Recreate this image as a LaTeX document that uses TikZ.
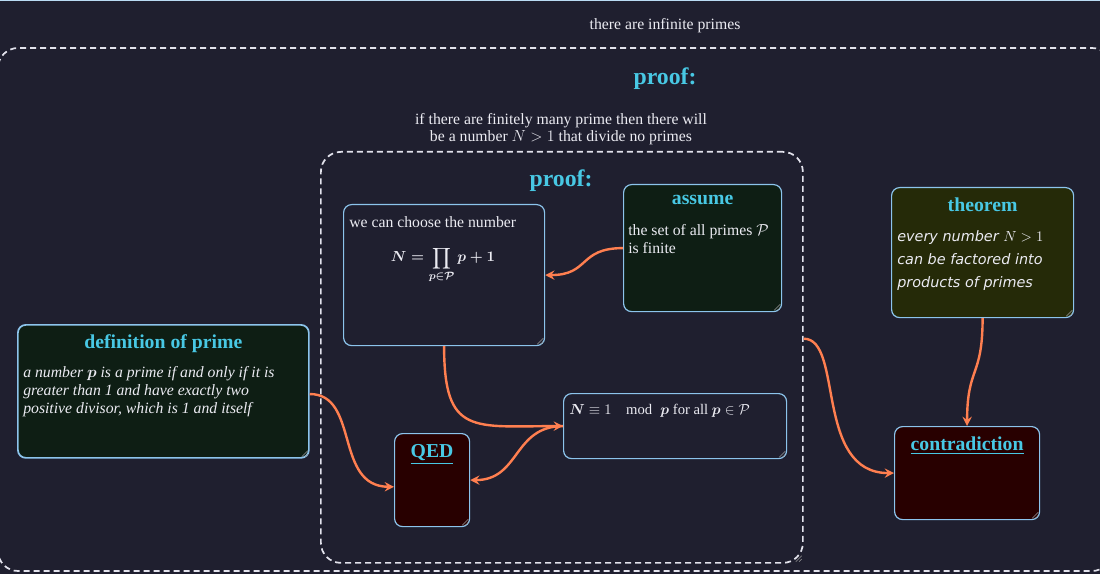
\documentclass[tikz,border=0pt]{standalone}
\usepackage{amsmath,amssymb}
\usepackage{fontspec}
\setmainfont{Liberation Serif}
\newfontfamily\handfont{DejaVu Sans}
\usetikzlibrary{positioning,arrows.meta}
\definecolor{bgcol}{RGB}{31,31,47}
\definecolor{edgecol}{RGB}{140,196,236}
\definecolor{greenfill}{RGB}{14,30,20}
\definecolor{olivefill}{RGB}{37,42,8}
\definecolor{redfill}{RGB}{40,0,0}
\definecolor{titlecol}{RGB}{72,200,228}
\definecolor{linkcol}{RGB}{255,127,80}
\definecolor{txtcol}{RGB}{235,235,242}
\definecolor{dashcol}{RGB}{226,226,236}
\tikzset{
  wh/.style 2 args={minimum width=#1*0.75pt,minimum height=#2*0.75pt},
  box/.style={draw=edgecol,line width=0.9pt,rounded corners=6pt,anchor=north west,inner sep=0pt},
  frame/.style={draw=dashcol,line width=1.3pt,dash pattern=on 4.5pt off 3pt,rounded corners=15pt},
  title/.style={text=titlecol,font=\bfseries\fontsize{14.8}{16}\selectfont,inner sep=0pt,anchor=north},
  body/.style={text=txtcol,font=\fontsize{11.8}{13.5}\selectfont,align=left,inner sep=0pt,anchor=north west},
  link/.style={->,draw=linkcol,line width=1.8pt},
  grip/.style={draw=gray!80,line width=0.4pt},
}
\begin{document}
\begin{tikzpicture}[x=0.75pt,y=-0.75pt,>={Stealth[length=7pt,width=7pt,inset=2.5pt]}]
\fill[bgcol] (0,0) rectangle (1100,574);
\useasboundingbox (0,0) rectangle (1100,574);
\draw[edgecol!60!white,line width=1pt] (0,0.6) -- (1100,0.6);
\node[body,anchor=center,font=\fontsize{11.8}{13}\selectfont] (goal) at (665,26) {there are infinite primes};
% outer proof
\draw[frame] (-2,48) rectangle (1112,571);
\node[title,anchor=center,font=\bfseries\fontsize{17.8}{20}\selectfont] (proofA) at (665,79) {proof:};
\node[body,anchor=center,align=center,font=\fontsize{11.8}{13}\selectfont] (claim) at (561,129)
  {if there are finitely many prime then there will\\be a number $N>1$ that divide no primes};
% inner proof
\node[frame,anchor=north west,inner sep=0pt,wh={482}{411}] (inner) at (320,151) {};
\node[title,anchor=center,font=\bfseries\fontsize{17.8}{20}\selectfont] (proofB) at (561,181) {proof:};
\node[box,fill=bgcol,wh={201}{141}] (prod) at (343,204) {};
\node[box,fill=greenfill,wh={158}{127}] (assume) at (623,184) {};
\node[box,fill=olivefill,wh={182}{130}] (theorem) at (891,187) {};
\node[box,fill=greenfill,line width=1.3pt,wh={291}{133}] (defn) at (17,324) {};
\node[box,fill=redfill,wh={75}{93}] (qed) at (394,433) {};
\node[box,fill=bgcol,wh={223}{65}] (nmod) at (563,393) {};
\node[box,fill=redfill,wh={145}{93}] (contra) at (894,426) {};
\foreach \b in {prod,assume,theorem,defn,qed,nmod,contra,inner}
  \draw[grip] ([shift={(-6pt,1.5pt)}]\b.south east) -- ([shift={(-1.5pt,6pt)}]\b.south east)
              ([shift={(-3.5pt,1.5pt)}]\b.south east) -- ([shift={(-1.5pt,3.5pt)}]\b.south east);
% texts
\node[body] (prodT) at (349,216) {we can choose the number};
\node[body,anchor=center,font={\fontsize{11}{13}\selectfont\boldmath}] (prodF) at (443,265)
  {$\displaystyle N=\prod_{p\in\mathcal{P}}p+1$};
\node[title,below=8pt of assume.north] (assumeT) {assume};
\node[body] (assumeB) at (628,224) {the set of all primes $\mathcal{P}$\\is finite};
\node[title,below=8pt of theorem.north] (theoremT) {theorem};
\node[body,font=\handfont\itshape\fontsize{10.8}{17.2}\selectfont] (theoremB) at (897,230)
  {every number $N>1$\\can be factored into\\products of primes};
\node[title,below=8pt of defn.north] (defnT) {definition of prime};
\node[body,font=\itshape\fontsize{11.8}{13.5}\selectfont] (defnB) at (23,366)
  {a number $\boldsymbol{p}$ is a prime if and only if it is\\greater than 1 and have exactly two\\positive divisor, which is 1 and itself};
\node[title,below=8pt of qed.north] (qedT) {\underline{QED}};
\node[body,font=\fontsize{11}{13}\selectfont] (nmodB) at (569,404)
  {$\boldsymbol{N}\equiv 1\quad\mathrm{mod}\;\;\boldsymbol{p}$ for all $\boldsymbol{p}\in\mathcal{P}$};
\node[title,below=8pt of contra.north] (contraT) {\underline{contradiction}};
% links
\draw[link] (assume.west) .. controls +(-45,0) and +(45,0) .. (prod.east);
\draw[link] (prod.south) .. controls +(0,90) and +(-90,0) .. (nmod.west);
\draw[link] (nmod.west) .. controls +(-50,0) and +(50,0) .. (qed.east);
\draw[link] ([yshift=-2pt]defn.east) .. controls +(50,0) and +(-60,0) .. ([yshift=-5pt]qed.west);
\draw[link] ([yshift=14pt]inner.east) .. controls +(40,0) and +(-80,0) .. (contra.west);
\draw[link] (theorem.south) .. controls +(0,60) and +(0,-60) .. (contra.north);
\end{tikzpicture}
\end{document}
